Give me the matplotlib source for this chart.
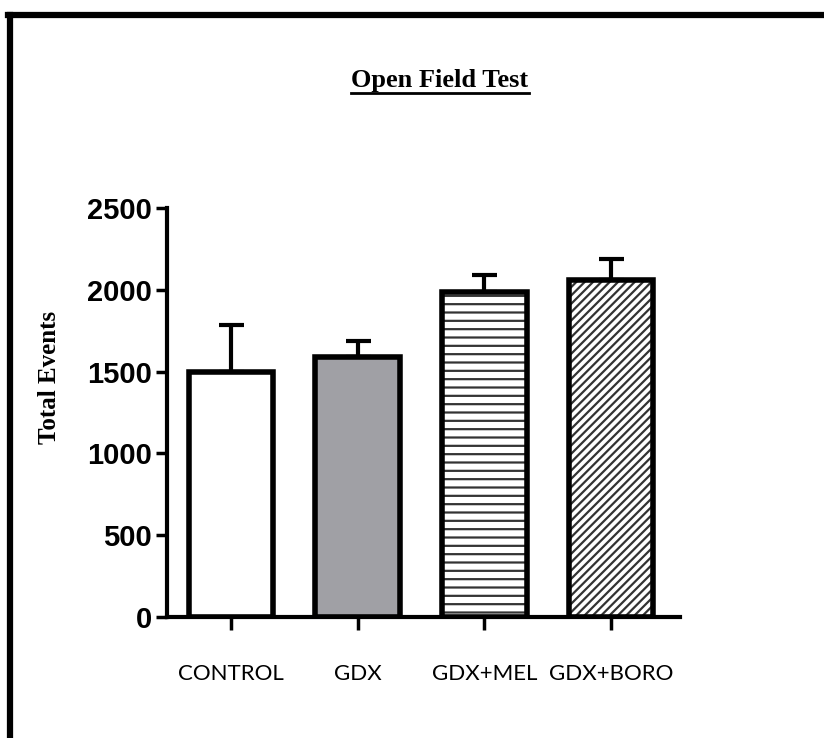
import matplotlib.pyplot as plt
from matplotlib.lines import Line2D

plt.rcParams["hatch.linewidth"] = 1.6

# Datos del test de campo abierto
grupos = ["CONTROL", "GDX", "GDX+MEL", "GDX+BORO"]
eventos = [1500, 1590, 1990, 2060]
error = [285, 95, 100, 130]
colores = ["white", "#a0a0a5", "white", "white"]
tramas = ["", "", "--", "////"]

fig = plt.figure(figsize=(8.24, 7.38), dpi=100)
ax = fig.add_axes([0.2027, 0.164, 0.6226, 0.554])

pos = range(len(grupos))
barras = ax.bar(pos, eventos, width=0.67, color=colores, edgecolor="black",
                linewidth=4, zorder=2)
for b, t in zip(barras, tramas):
    if t:
        b.set_hatch(t)
        b._hatch_color = (0.2, 0.2, 0.2, 1.0)

ax.errorbar(pos, eventos, yerr=[[0] * len(error), error], fmt="none",
            ecolor="black", elinewidth=3, capsize=9, capthick=3, zorder=1)

ax.set_xlim(-0.505, 3.545)
ax.set_ylim(0, 2500)
ax.set_yticks([0, 500, 1000, 1500, 2000, 2500])
ax.set_xticks(list(pos))
ax.set_xticklabels(grupos, family="Lato", fontsize=16)
for lbl in ax.get_yticklabels():
    lbl.set_family("Liberation Sans")
    lbl.set_fontweight("bold")
    lbl.set_fontsize(21)

ax.spines["top"].set_visible(False)
ax.spines["right"].set_visible(False)
ax.spines["left"].set_linewidth(3)
ax.spines["bottom"].set_linewidth(3)
ax.tick_params(axis="y", length=8, width=2.5, pad=3)
ax.tick_params(axis="x", length=9, width=2.5, pad=25)

# Marco exterior (solo izquierda y arriba)
fig.add_artist(Line2D([0.012, 0.012], [0.0, 0.979], color="black", lw=4.5))
fig.add_artist(Line2D([0.010, 1.0], [0.979, 0.979], color="black", lw=4.5))

fig.text(50 / 824, 1 - 377 / 738, "Total Events", rotation=90,
         family="Liberation Serif", fontweight="bold", fontsize=18,
         ha="center", va="center")

titulo = fig.text(440 / 824, 1 - 81 / 738, "Open Field Test",
                  family="Liberation Serif", fontweight="bold", fontsize=19,
                  ha="center", va="center")

# Subrayado del título
fig.canvas.draw()
bb = titulo.get_window_extent().transformed(fig.transFigure.inverted())
fig.add_artist(Line2D([bb.x0, bb.x1], [bb.y0 - 0.001, bb.y0 - 0.001],
                      color="black", lw=2))

fig.savefig("out.png", dpi=100)
